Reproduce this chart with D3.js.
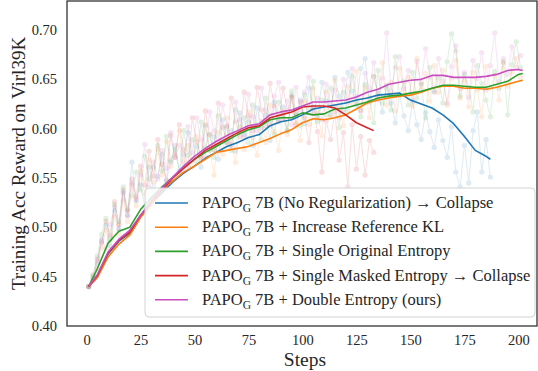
<!DOCTYPE html>
<html><head><meta charset="utf-8">
<script src="https://cdn.jsdelivr.net/npm/d3@7"></script>
<style>
html,body{margin:0;padding:0;background:#fff;}
svg{display:block;font-family:"Liberation Serif","Times New Roman",serif;}
</style></head>
<body><svg id="chart" width="538" height="371"></svg>
<script>
// ---------- DATA ----------
const xTicks = [0,25,50,75,100,125,150,175,200];
const yTicks = [0.40,0.45,0.50,0.55,0.60,0.65,0.70];

const seriesNames = ["blue","orange","green","red","purple"];
const legendSuffix = [
  " 7B (No Regularization) \u2192 Collapse",
  " 7B + Increase Reference KL",
  " 7B + Single Original Entropy",
  " 7B + Single Masked Entropy \u2192 Collapse",
  " 7B + Double Entropy (ours)"
];

// smoothed curves (thousandths)
const smoothStepsFull = [1,5,10,15,20,25,30,35,40,45,50,55,60,65,70,75,80,85,90,95,100,105,110,115,120,125,130,135,140,145,150,155,160,165,170,175,180,185,190,195,200,202];
const smoothStepsBlue = [1,5,10,15,20,25,30,35,40,45,50,55,60,65,70,75,80,85,90,95,100,105,110,115,120,125,130,135,140,145,150,155,160,165,170,175,180,185,187];
const smoothStepsRed  = [1,5,10,15,20,25,30,35,40,45,50,55,60,65,70,75,80,85,90,95,100,105,110,115,120,125,130,133];

const smoothBlue   = [440,450,473,486,494,512,524,535,546,555,562,570,576,582,586,591,594,603,607,609,614,620,622,624,626,629,631,634,635,636,629,625,621,614,605,592,578,572,569];
const smoothOrange = [440,449,470,483,492,510,523,538,547,556,562,569,576,578,580,582,586,590,595,599,606,610,609,611,614,620,626,629,631,633,634,637,641,643,643,641,641,640,642,645,648,649];
const smoothGreen  = [440,458,484,496,500,518,530,541,551,560,569,576,582,588,594,599,602,609,611,611,616,614,615,620,621,624,627,631,633,634,636,638,641,644,644,643,642,642,645,648,655,656];
const smoothRed    = [440,451,474,487,495,512,526,538,550,560,569,578,584,590,596,601,603,611,614,617,622,623,623,621,614,606,601,598];
const smoothPurple = [440,452,475,488,497,512,527,540,551,562,572,580,587,593,598,603,605,614,617,619,623,627,627,628,629,632,637,640,645,647,649,650,654,654,652,652,652,653,655,659,660,659];

// raw per-step rewards at odd steps 1,3,5,... (thousandths)
const rawBlue = [440,449,463,486,502,481,517,499,536,512,
  566,527,543,521,561,538,552,574,547,566,
  583,557,574,596,568,582,561,603,578,592,
  569,609,586,598,577,616,594,607,583,621,
  601,614,588,627,609,622,598,634,614,629,
  605,641,622,611,647,628,614,652,633,619,
  657,638,624,661,671,627,653,636,617,644,
  626,606,634,613,598,627,604,589,616,597,
  581,609,588,571,602,556,541,583,545,598,
  617,556,589,551];
const rawOrange = [440,446,458,479,497,476,511,493,527,506,
  543,522,557,534,568,546,579,553,587,562,
  574,598,566,583,561,592,571,604,579,553,
  596,574,611,584,566,602,579,617,591,573,
  608,586,624,597,578,617,594,632,606,588,
  628,604,641,616,593,637,612,649,621,603,
  643,626,658,619,642,611,653,632,667,624,
  647,618,661,637,652,623,671,641,656,628,
  664,637,659,624,651,669,631,648,622,657,
  639,612,663,641,654,629,668,643,657,671,
  652];
const rawGreen = [440,452,471,493,509,488,523,506,541,518,
  532,556,538,572,549,561,583,557,592,568,
  579,556,598,573,589,566,607,581,594,571,
  613,588,602,578,619,597,611,586,624,603,
  589,631,608,594,627,612,598,638,616,603,
  634,621,648,607,629,614,641,622,601,637,
  618,653,628,612,645,631,606,659,626,641,
  619,673,634,648,624,657,631,645,611,662,
  638,651,626,668,696,679,633,655,642,617,
  664,646,629,612,658,641,667,614,665,688,
  662];
const rawRed = [440,451,468,484,506,492,526,503,538,517,
  549,531,562,543,577,552,589,564,548,593,
  571,604,579,562,611,587,571,618,594,579,
  626,601,586,631,607,592,637,613,598,642,
  619,603,646,623,607,641,618,632,604,627,
  611,586,621,597,556,608,589,617,568,596,
  541,604,559,592,553,588,576];
const rawPurple = [440,447,466,488,479,503,521,497,534,512,
  545,528,553,584,541,566,549,578,560,596,
  571,583,558,602,576,611,589,572,617,598,
  585,624,603,581,627,609,592,635,612,598,
  641,619,603,633,647,611,628,604,642,619,
  637,652,616,631,609,645,624,639,611,650,
  627,661,633,618,656,641,667,629,651,697,
  638,662,673,641,659,629,668,646,681,652,
  637,671,648,626,663,684,641,657,632,669,
  651,677,639,664,697,648,671,655,683,662,
  674];

const colors = ["#1f77b4","#ff7f0e","#2ca02c","#d62728","#c94fc0"];

// ---------- BUILD ----------
const rawSets = [rawBlue,rawOrange,rawGreen,rawRed,rawPurple];
const smoothSets = [
  [smoothStepsBlue, smoothBlue],
  [smoothStepsFull, smoothOrange],
  [smoothStepsFull, smoothGreen],
  [smoothStepsRed, smoothRed],
  [smoothStepsFull, smoothPurple]
];

const L = 67, R = 537, T = 1, B = 326;
const svg = d3.select("#chart");
const x = d3.scaleLinear().domain([-9.04, 208.6]).range([L, R]);
const y = d3.scaleLinear().domain([0.40, 0.7294]).range([B, T]);

svg.append("clipPath").attr("id","clip").append("rect")
  .attr("x",L).attr("y",T).attr("width",R-L).attr("height",B-T);
const plot = svg.append("g").attr("clip-path","url(#clip)");

const line = d3.line().x(d=>x(d[0])).y(d=>y(d[1]));

// raw faded traces
rawSets.forEach((arr,i)=>{
  const pts = arr.map((v,k)=>[1+2*k, v/1000]);
  const g = plot.append("g").attr("opacity",0.14);
  g.append("path").datum(pts).attr("d",line)
    .attr("fill","none").attr("stroke",colors[i]).attr("stroke-width",1);
  g.selectAll("circle").data(pts).join("circle")
    .attr("cx",d=>x(d[0])).attr("cy",d=>y(d[1])).attr("r",2.6)
    .attr("fill",colors[i]);
});

// smoothed curves
smoothSets.forEach(([steps,vals],i)=>{
  const pts = vals.map((v,k)=>[steps[k], v/1000]);
  plot.append("path").datum(pts).attr("d",line)
    .attr("fill","none").attr("stroke",colors[i]).attr("stroke-width",1.6)
    .attr("stroke-linejoin","round");
});

// axes
const yAxis = svg.append("g").attr("transform",`translate(${L},0)`)
  .call(d3.axisLeft(y).tickValues(yTicks).tickSize(0).tickPadding(10).tickFormat(d3.format(".2f")));
const xAxis = svg.append("g").attr("transform",`translate(0,${B})`)
  .call(d3.axisBottom(x).tickValues(xTicks).tickSize(0).tickPadding(9));
[yAxis,xAxis].forEach(a=>{
  a.select(".domain").remove();
  a.selectAll("text").attr("font-size",14.5).attr("fill","#262626")
    .attr("font-family","Liberation Serif, serif");
});

// frame
svg.append("rect").attr("x",L).attr("y",T).attr("width",R-L).attr("height",B-T)
  .attr("fill","none").attr("stroke","#333").attr("stroke-width",1.3);

// axis titles
svg.append("text").attr("x",(L+R)/2+3).attr("y",366).attr("text-anchor","middle")
  .attr("font-size",19.5).attr("fill","#262626").text("Steps");
svg.append("text").attr("transform",`translate(25,${(T+B)/2}) rotate(-90)`)
  .attr("text-anchor","middle").attr("font-size",19).attr("fill","#262626")
  .text("Training Acc Reward on Virl39K");

// legend
const lg = svg.append("g");
lg.append("rect").attr("x",145).attr("y",188).attr("width",390).attr("height",129)
  .attr("rx",4).attr("fill","#fff").attr("fill-opacity",0.82)
  .attr("stroke","#d4d4d4").attr("stroke-width",1);
legendSuffix.forEach((s,i)=>{
  const cy = 203 + i*24.2;
  lg.append("line").attr("x1",155).attr("x2",188).attr("y1",cy).attr("y2",cy)
    .attr("stroke",colors[i]).attr("stroke-width",1.6);
  const t = lg.append("text").attr("x",202).attr("y",cy+5).attr("font-size",16.5).attr("fill","#262626");
  t.append("tspan").text("PAPO");
  t.append("tspan").attr("dy",4).attr("font-size",11.5).text("G");
  t.append("tspan").attr("dy",-4).text(s);
});
</script></body></html>
